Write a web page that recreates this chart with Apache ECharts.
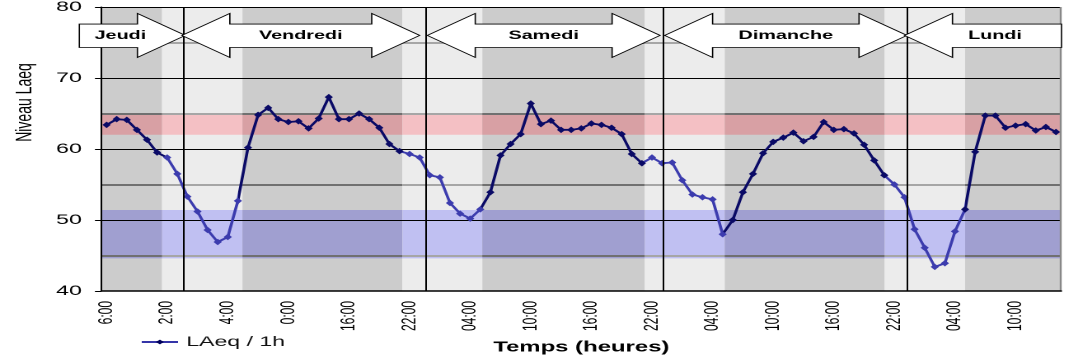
<!DOCTYPE html>
<html><head><meta charset="utf-8">
<script src="https://cdn.jsdelivr.net/npm/echarts@6/dist/echarts.min.js"></script>
<style>
html,body{margin:0;padding:0;background:#fff;overflow:hidden;width:1078px;height:360px}
#wrap{width:654px;height:360px;transform:scaleX(1.648318);transform-origin:0 0}
</style></head>
<body><div id="wrap"></div>
<script>
// ---- data ----
const categories = [
 "16:00","17:00","18:00","19:00","20:00","21:00","22:00","23:00",
 "00:00","01:00","02:00","03:00","04:00","05:00","06:00","07:00","08:00","09:00","10:00","11:00","12:00","13:00","14:00","15:00","16:00","17:00","18:00","19:00","20:00","21:00","22:00","23:00",
 "00:00","01:00","02:00","03:00","04:00","05:00","06:00","07:00","08:00","09:00","10:00","11:00","12:00","13:00","14:00","15:00","16:00","17:00","18:00","19:00","20:00","21:00","22:00","23:00",
 "00:00","01:00","02:00","03:00","04:00","05:00","06:00","07:00","08:00","09:00","10:00","11:00","12:00","13:00","14:00","15:00","16:00","17:00","18:00","19:00","20:00","21:00","22:00","23:00",
 "00:00","01:00","02:00","03:00","04:00","05:00","06:00","07:00","08:00","09:00","10:00","11:00","12:00","13:00","14:00"
];
const laeq = [
 63.4,64.2,64.1,62.7,61.3,59.5,58.8,56.5,
 53.3,51.2,48.6,46.9,47.6,52.7,60.2,64.8,65.8,64.2,63.8,63.9,62.9,64.3,67.3,64.2,64.2,65.0,64.2,63.0,60.7,59.7,59.3,58.8,
 56.3,56.0,52.4,50.9,50.2,51.5,53.9,59.1,60.7,62.1,66.4,63.5,64.0,62.7,62.7,62.9,63.6,63.4,63.0,62.1,59.3,58.0,58.8,58.0,
 58.1,55.6,53.6,53.2,52.9,48.0,50.0,53.9,56.5,59.4,61.0,61.6,62.3,61.1,61.7,63.8,62.7,62.8,62.2,60.6,58.4,56.3,55.0,53.2,
 48.7,46.1,43.4,43.9,48.4,51.5,59.6,64.7,64.7,63.0,63.3,63.5,62.6,63.1,62.4
];
const seriesName = "LAeq / 1h";
const dayNames = ["Jeudi","Vendredi","Samedi","Dimanche","Lundi"];
const dayKinds = ["right","both","both","both","left"];
const daySpans = [[-2.2,8.3],[7.95,31.5],[32.25,55.3],[55.75,79.75],[79.5,95.05]];
const dayLines = [8.04,32.08,55.53,79.7];
const nightSpans = [[6,13.95],[29.8,37.7],[53.8,61.7],[77.55,85.5]];
const redBand = [62,65];
const blueBand = [44.6,51.4];
const majorLines = [50,60,70,80];
const minorLines = [45,55,65,75];

// ---- styles ----
const FONT = '"Liberation Sans", Arial, sans-serif';
const C = {dark:'#cccccc', light:'#ececec', pinkDark:'#d8a0a4', pinkLight:'#f4c0c4',
           blueDark:'#a09fd0', blueLight:'#c0c0f2', day:'#0a0a66', night:'#3c3cae',
           minorDay:'#707070', minorNight:'#a6a6a6'};
const NX = categories.length;

// day/night segments
const segs = [];
let prev = 0;
nightSpans.forEach(([a,b]) => { segs.push([prev,a,false]); segs.push([a,b,true]); prev = b; });
segs.push([prev,NX,false]);

const bgAreas = segs.map(([a,b,night]) => [{xAxis:a,yAxis:40,itemStyle:{color:night?C.light:C.dark}},{xAxis:b,yAxis:80}]);
const bandAreas = [];
segs.forEach(([a,b,night]) => {
  bandAreas.push([{xAxis:a,yAxis:redBand[0],itemStyle:{color:night?C.pinkLight:C.pinkDark}},{xAxis:b,yAxis:redBand[1]}]);
  bandAreas.push([{xAxis:a,yAxis:blueBand[0],itemStyle:{color:night?C.blueLight:C.blueDark}},{xAxis:b,yAxis:blueBand[1]}]);
});

const gridLines = [];
majorLines.forEach(v => gridLines.push({yAxis:v, lineStyle:{color:'#000', width:1, type:'solid'}}));
minorLines.forEach(v => segs.forEach(([a,b,night]) => gridLines.push([
  {coord:[a,v], lineStyle:{color:night?C.minorNight:C.minorDay, width:2, type:'solid'}}, {coord:[b,v]}])));
gridLines.push({xAxis:NX, lineStyle:{color:'#888', width:1.2, type:'solid'}});

const chart = echarts.init(document.getElementById('wrap'), null, {devicePixelRatio:2});
chart.setOption({
  animation:false,
  grid:{left:61.6, right:10.3, top:7, bottom:69},
  legend:{left:40, top:324, padding:[11,20,12,45], backgroundColor:'#fff', itemWidth:22, itemHeight:6, z:20,
    textStyle:{fontFamily:FONT, fontSize:14, color:'#111'},
    data:[{name:seriesName, itemStyle:{color:'#00005a'}, lineStyle:{color:'#3535a8', width:2}}]},
  visualMap:{show:false, type:'piecewise', seriesIndex:3, dimension:0,
    pieces: nightSpans.map(([a,b]) => ({gte:a-0.5, lt:b-0.5, color:C.night})),
    outOfRange:{color:C.day}},
  xAxis:[
    {type:'category', data:categories, boundaryGap:true, z:10,
     axisLine:{lineStyle:{color:'#000', width:1.5}},
     axisTick:{interval:0, length:5, lineStyle:{color:'#000'}},
     axisLabel:{interval:5, rotate:90, margin:10, fontFamily:FONT, fontSize:12, color:'#000'},
     splitLine:{show:false},
     name:'Temps (heures)', nameLocation:'middle', nameGap:49,
     nameTextStyle:{fontFamily:FONT, fontWeight:'bold', fontSize:14.5, color:'#000'}},
    {type:'value', min:0, max:NX, show:false}
  ],
  yAxis:{type:'value', min:40, max:80, interval:10, z:10,
    axisLine:{show:true, lineStyle:{color:'#000', width:1}},
    axisTick:{show:true, length:4, lineStyle:{color:'#000'}},
    axisLabel:{margin:12, fontFamily:FONT, fontSize:14, color:'#000'},
    splitLine:{show:false}},
  series:[
    {type:'line', xAxisIndex:1, data:[], silent:true, markArea:{silent:true, z:1, label:{show:false}, data:bgAreas}},
    {type:'line', xAxisIndex:1, data:[], silent:true, markArea:{silent:true, z:2, label:{show:false}, data:bandAreas}},
    {type:'line', xAxisIndex:1, data:[], silent:true, markLine:{silent:true, z:3, symbol:'none', label:{show:false}, data:gridLines}},
    {type:'line', name:seriesName, data:laeq, symbol:'diamond', symbolSize:[5,6.5], showAllSymbol:true, z:4,
     lineStyle:{width:1.8}},
    {type:'line', xAxisIndex:1, data:[], silent:true, markLine:{silent:true, z:6, symbol:'none', label:{show:false},
      data: dayLines.map(v => ({xAxis:v, lineStyle:{color:'#000', width:1, type:'solid'}}))}}
  ]
});

// ---- day arrows (annotations) ----
const px = v => chart.convertToPixel({xAxisIndex:1}, v);
const py = v => chart.convertToPixel({yAxisIndex:0}, v);
const HEAD = 4.75;
const yHT = py(79.1), yBT = py(77.6), yM = py(76.0), yBB = py(74.3), yHB = py(72.9);
const graphics = [];
dayNames.forEach((name, i) => {
  const [s, e] = daySpans[i];
  const kind = dayKinds[i];
  const xs = px(s), xe = px(e), hs = px(s + HEAD), he = px(e - HEAD);
  let pts, tx;
  if (kind === 'right') {
    pts = [[xs,yBT],[he,yBT],[he,yHT],[xe,yM],[he,yHB],[he,yBB],[xs,yBB]];
    tx = (s + e - HEAD/2)/2;
  } else if (kind === 'left') {
    pts = [[xs,yM],[hs,yHT],[hs,yBT],[xe,yBT],[xe,yBB],[hs,yBB],[hs,yHB]];
    tx = (s + e + HEAD/2)/2;
  } else {
    pts = [[xs,yM],[hs,yHT],[hs,yBT],[he,yBT],[he,yHT],[xe,yM],[he,yHB],[he,yBB],[hs,yBB],[hs,yHB]];
    tx = (s + e)/2;
  }
  graphics.push({type:'polygon', z:30, silent:true, shape:{points:pts}, style:{fill:'#fff', stroke:'#000', lineWidth:0.8}});
  graphics.push({type:'text', z:31, silent:true, x:px(tx), y:yM + 0.5,
    style:{text:name, font:'bold 12px ' + FONT, fill:'#000', align:'center', verticalAlign:'middle', textAlign:'center', textVerticalAlign:'middle'}});
});
graphics.push({type:'text', z:31, silent:true, x:15.2, y:102.5, rotation:Math.PI/2,
  style:{text:'Niveau Laeq', font:'14px ' + FONT, fill:'#000', align:'center', verticalAlign:'middle', textAlign:'center', textVerticalAlign:'middle'}});
chart.setOption({graphic:graphics});
</script>
</body></html>
